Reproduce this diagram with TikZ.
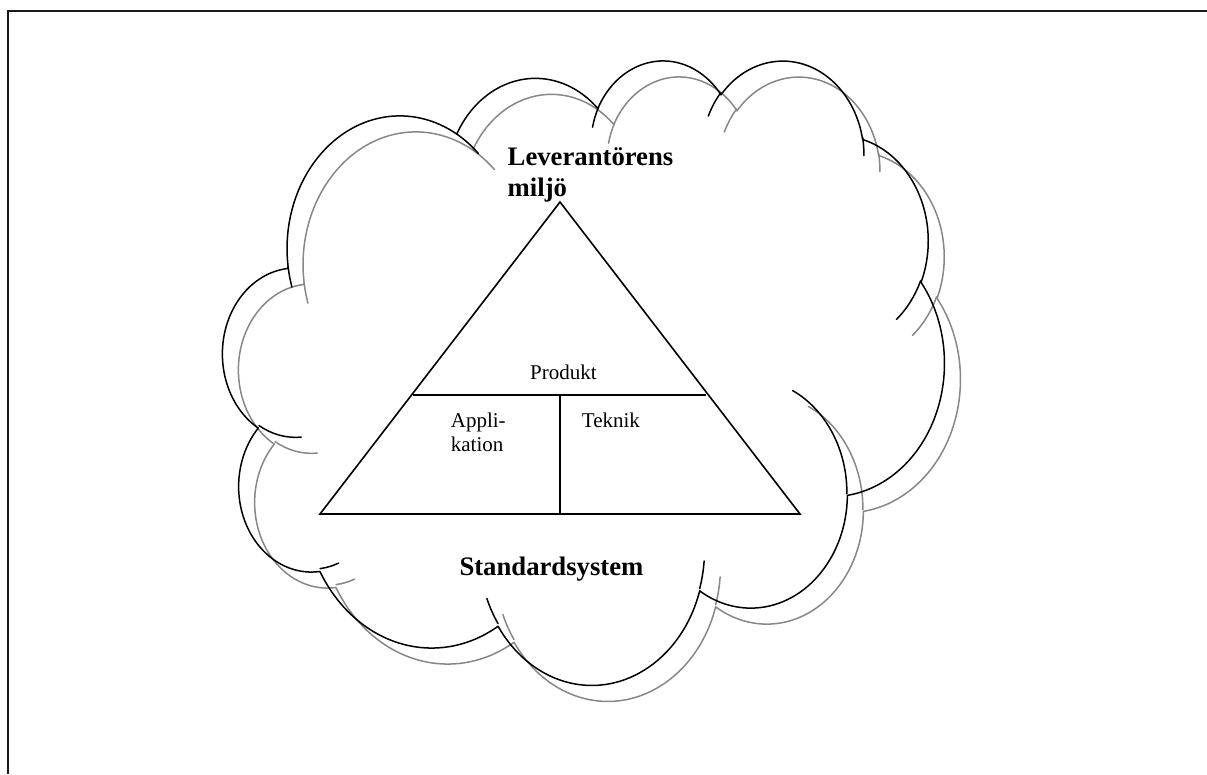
\documentclass[tikz,border=0pt]{standalone}
\usepackage{fontspec}
\setmainfont{Liberation Serif}

% Scale of the cloud outline: path units (thousandths) to pt
\def\csx{0.016690}
\def\csy{0.014444}

% \defcloudarc{style}{wR}{hR}{start}{sweep}: elliptical arc given by
% visual angles (clockwise, y down), turned into a TikZ arc style
\newcommand\defcloudarc[5]{%
  \pgfmathsetmacro\cA{atan2(#2*sin(#4),#3*cos(#4))}%
  \pgfmathsetmacro\cB{atan2(#2*sin(#4+#5),#3*cos(#4+#5))}%
  \pgfmathsetmacro\cS{-\cA}%
  \pgfmathsetmacro\cD{-mod(\cB-\cA+720,360)}%
  \pgfmathsetmacro\cX{#2*\csx}%
  \pgfmathsetmacro\cY{#3*\csy}%
  \edef\cTmp{\noexpand\tikzset{#1/.style={start angle=\cS,delta angle=\cD,x radius=\cX pt,y radius=\cY pt}}}%
  \cTmp}

% outline lobes
\defcloudarc{ca1}{6753}{9190}{-190.48748}{123.78053}
\defcloudarc{ca2}{5333}{7267}{-144.10238}{89.94523}
\defcloudarc{ca3}{4365}{5945}{-145.80792}{99.72302}
\defcloudarc{ca4}{4857}{6595}{-130.98607}{117.24173}
\defcloudarc{ca5}{5333}{7273}{-78.70888}{109.02692}
\defcloudarc{ca6}{6775}{9220}{-46.26725}{130.26900}
\defcloudarc{ca7}{5785}{7867}{0.62502}{114.03333}
\defcloudarc{ca8}{6752}{9215}{22.45160}{115.17255}
\defcloudarc{ca9}{7720}{10543}{66.24263}{75.71102}
\defcloudarc{ca10}{4360}{5918}{-274.94208}{146.73557}
\defcloudarc{ca11}{4345}{5945}{-246.82850}{152.51885}
% short inner continuations of the lobes
\defcloudarc{ce1}{4345}{5945}{86.74200}{26.42950}
\defcloudarc{ce2}{4360}{5918}{73.61047}{11.44747}
\defcloudarc{ce3}{6752}{9215}{137.62415}{14.08110}
\defcloudarc{ce4}{6752}{9215}{6.45327}{15.99835}
\defcloudarc{ce5}{5785}{7867}{-70.29235}{70.91737}
\defcloudarc{ce6}{5333}{7273}{30.31803}{27.75150}
\defcloudarc{ce7}{4857}{6595}{-13.74433}{14.85890}
\defcloudarc{ce8}{4857}{6595}{-149.18145}{18.19537}
\defcloudarc{ce9}{4365}{5945}{-163.49427}{17.68635}
\defcloudarc{ce10}{6753}{9190}{-66.70695}{12.31935}
\defcloudarc{ce11}{6753}{9190}{157.65435}{11.85817}

\newcommand\cloudshape{%
  \draw (3.900,14.370) arc[ca1] arc[ca2] arc[ca3] arc[ca4] arc[ca5] arc[ca6]
        arc[ca7] arc[ca8] arc[ca9] arc[ca10] arc[ca11] -- cycle;
  \draw (4.693,26.177) arc[ce1]
        (6.928,34.899) arc[ce2]
        (16.478,39.090) arc[ce3]
        (28.827,34.751) arc[ce4]
        (34.129,22.954) arc[ce5]
        (41.798,15.354) arc[ce6]
        (38.324,5.426) arc[ce7]
        (29.078,3.952) arc[ce8]
        (22.141,4.720) arc[ce9]
        (14.000,5.192) arc[ce10]
        (4.127,15.789) arc[ce11];
}

\begin{document}
\begin{tikzpicture}[x=1pt,y=-1pt,
  cloudline/.style={line width=1.5pt, line join=round, line cap=round},
  shadowline/.style={cloudline, draw=black!47},
  frameline/.style={line width=2pt, draw=black!90},
  triline/.style={line width=1.6pt, line join=miter},
  txt/.style={inner sep=0pt, anchor=base west},
  bigtxt/.style={txt, font=\fontsize{26.7}{31}\selectfont\bfseries},
  smalltxt/.style={txt, font=\fontsize{21}{24.4}\selectfont}]
  \useasboundingbox (0,0) rectangle (1207,774);

  % page frame
  \coordinate (fbl) at (8,774);
  \coordinate (ftl) at (8,11);
  \coordinate (ftr) at (1207,11);
  \draw[frameline] (fbl) -- (ftl) -- (ftr);

  % cloud with its shadow
  \begin{scope}[shift={(239,75)}, x=16.690pt, y=-14.444pt, shadowline]
    \cloudshape
  \end{scope}
  \begin{scope}[shift={(223,59)}, x=16.690pt, y=-14.444pt, cloudline]
    \cloudshape
  \end{scope}

  % triangle with its partitions
  \coordinate (apex) at (560,202);
  \coordinate (bl) at (320,514);
  \coordinate (br) at (800,514);
  \coordinate (pl) at (413,395);
  \coordinate (pr) at (706,395);
  \coordinate (vt) at (560,395);
  \coordinate (vb) at (560,514);
  \draw[triline] (apex) -- (br) -- (bl) -- cycle;
  \draw[triline] (pl) -- (pr);
  \draw[triline] (vt) -- (vb);

  % labels
  \node[bigtxt] (lev1) at (507.5,165.7) {Leverantörens};
  \node[bigtxt] (lev2) at (507.5,196.7) {miljö};
  \node[bigtxt] (std) at (459.3,575.7) {Standardsystem};
  \node[smalltxt] (prod) at (530,379.3) {Produkt};
  \node[smalltxt] (app1) at (450.7,427.3) {Appli-};
  \node[smalltxt] (app2) at (450.7,451.7) {kation};
  \node[smalltxt] (tek) at (581.7,427.3) {Teknik};
\end{tikzpicture}
\end{document}
